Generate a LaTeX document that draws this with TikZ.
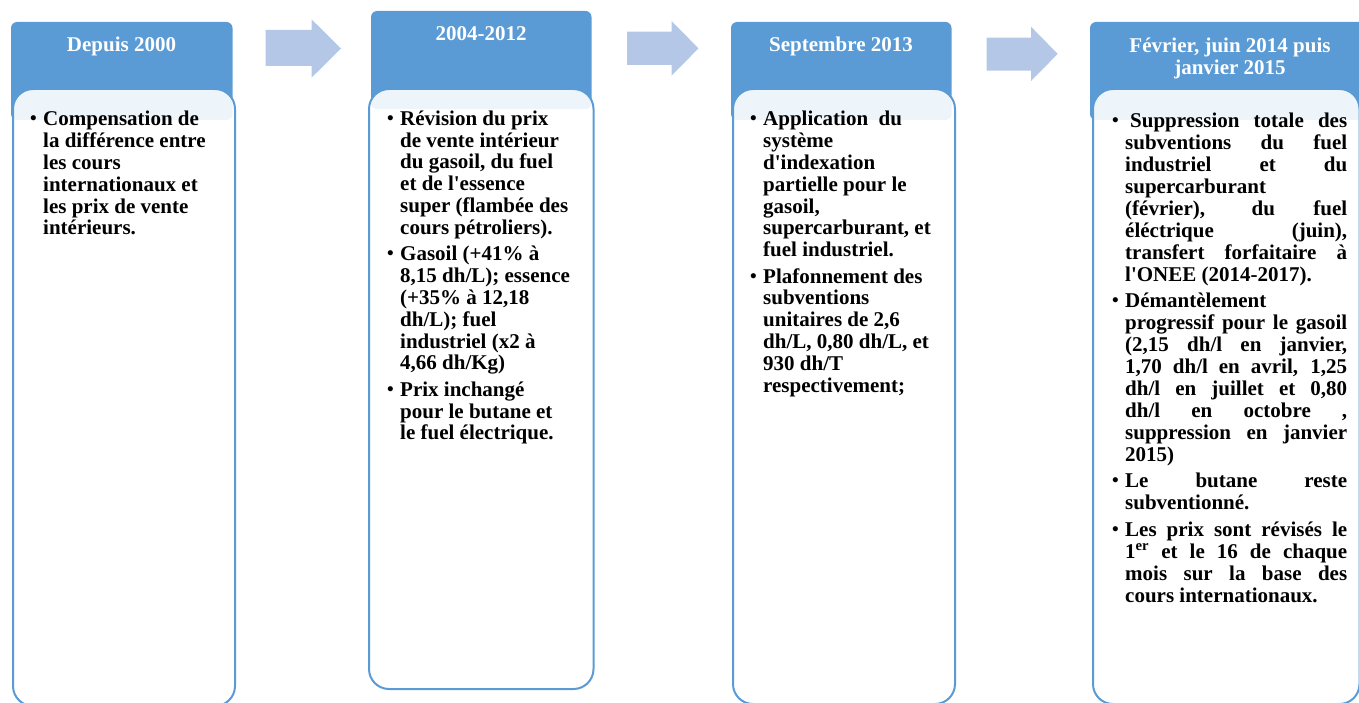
\documentclass[tikz,border=0pt]{standalone}
\usepackage{fontspec}
\setmainfont{Liberation Serif}
\definecolor{hdr}{HTML}{5B9BD5}
\definecolor{arw}{HTML}{B4C7E7}
\newcommand{\bulletmark}{\raisebox{1bp}{\fontsize{19bp}{19bp}\selectfont\textbullet}}
\newcommand{\bitem}[1]{\par\hangindent=12bp\hangafter=1\noindent\makebox[12bp][l]{\hspace*{-1bp}\bulletmark}\strut#1\par}
\newcommand{\jl}[1]{\makebox[222bp][s]{#1}}
\newcommand{\apo}{\textquotesingle}
\tikzset{
  hdrbox/.style={fill=hdr, rounded corners=6bp},
  bodybox/.style={draw=hdr, line width=2bp, fill=white, fill opacity=0.9, rounded corners=20bp},
  arrowshape/.style={fill=arw},
  hdrtext/.style={text=white, font=\fontsize{21bp}{22bp}\selectfont\bfseries, inner sep=0pt},
  bodytext/.style={inner sep=0pt, anchor=north west, align=none,
    font=\fontsize{21bp}{21.8bp}\selectfont\bfseries},
  bodytextwide/.style={bodytext, font=\fontsize{21bp}{21.95bp}\selectfont\bfseries},
}
\begin{document}
\begin{tikzpicture}[x=1bp,y=-1bp]
\useasboundingbox (0,0) rectangle (1359,702);
% headers
\fill[hdrbox] (11,22) rectangle (232.5,120);
\fill[hdrbox] (371,11) rectangle (591.5,109);
\fill[hdrbox] (731,22) rectangle (951.5,120);
\fill[hdrbox] (1090,22) rectangle (1372,120);
% bodies
\draw[bodybox] (13,89) rectangle (235,706);
\draw[bodybox] (369,89) rectangle (593.5,689);
\draw[bodybox] (733,89) rectangle (955,704);
\draw[bodybox] (1093,89) rectangle (1359.5,704);
% arrows
\fill[arrowshape] (265.7,30) -- (311.5,30) -- (311.5,19.3) -- (341,48.5) -- (311.5,77.7) -- (311.5,66) -- (265.7,66) -- cycle;
\fill[arrowshape] (627,31.7) -- (671.5,31.7) -- (671.5,21) -- (698.5,48.4) -- (671.5,75.7) -- (671.5,65) -- (627,65) -- cycle;
\fill[arrowshape] (986.7,37.7) -- (1031,37.7) -- (1031,26.7) -- (1057.7,53.9) -- (1031,81) -- (1031,70.7) -- (986.7,70.7) -- cycle;
% header texts
\node[hdrtext, anchor=base] (h1) at (121.5,51.5) {Depuis 2000};
\node[hdrtext, anchor=base] (h2) at (481,40.5) {2004-2012};
\node[hdrtext, anchor=base] (h3) at (841,51.5) {Septembre 2013};
\node[hdrtext, anchor=north, align=center] (h4) at (1230,36.8) {\strut F\'evrier, juin 2014 puis\\janvier 2015};
% body texts
\node[bodytext, text width=220bp] (b1) at (31,99.3) {\parskip=4.6bp\rightskip=0pt plus 1fil
\bitem{Compensation de\newline la diff\'erence entre\newline les cours\newline internationaux et\newline les prix de vente\newline int\'erieurs.}};
\node[bodytext, text width=220bp] (b2) at (388,98.8) {\parskip=4.6bp\rightskip=0pt plus 1fil
\bitem{R\'evision du prix\newline de vente int\'erieur\newline du gasoil, du fuel\newline et de l\apo essence\newline super (flamb\'ee des\newline cours p\'etroliers).}
\bitem{Gasoil (+41\% \`a\newline 8,15 dh/L); essence\newline (+35\% \`a 12,18\newline dh/L); fuel\newline industriel (x2 \`a\newline 4,66 dh/Kg)}
\bitem{Prix inchang\'e\newline pour le butane et\newline le fuel \'electrique.}};
\node[bodytext, text width=220bp] (b3) at (751,99.3) {\parskip=4.6bp\rightskip=0pt plus 1fil
\bitem{Application\ \ du\newline syst\`eme\newline d\apo indexation\newline partielle pour le\newline gasoil,\newline supercarburant, et\newline fuel industriel.}
\bitem{Plafonnement des\newline subventions\newline unitaires de 2,6\newline dh/L, 0,80 dh/L, et\newline 930 dh/T\newline respectivement;}};
\node[bodytextwide, text width=234bp] (b4) at (1113,100.8) {\parskip=4.6bp\rightskip=0pt plus 1fil
\bitem{\jl{\hspace*{5bp}Suppression totale des}\newline \jl{subventions du fuel}\newline \jl{industriel et du}\newline supercarburant\newline \jl{(f\'evrier), du fuel}\newline \jl{\'el\'ectrique (juin),}\newline \jl{transfert forfaitaire \`a}\newline l\apo ONEE (2014-2017).}
\bitem{D\'emant\`element\newline \jl{progressif pour le gasoil}\newline \jl{(2,15 dh/l en janvier,}\newline \jl{1,70 dh/l en avril, 1,25}\newline \jl{dh/l en juillet et 0,80}\newline \jl{dh/l en octobre ,}\newline \jl{suppression en janvier}\newline 2015)}
\bitem{\jl{Le butane reste}\newline subventionn\'e.}
\bitem{\jl{Les prix sont r\'evis\'es le}\newline \jl{1\textsuperscript{er} et le 16 de chaque}\newline \jl{mois sur la base des}\newline cours internationaux.}};
\end{tikzpicture}
\end{document}
